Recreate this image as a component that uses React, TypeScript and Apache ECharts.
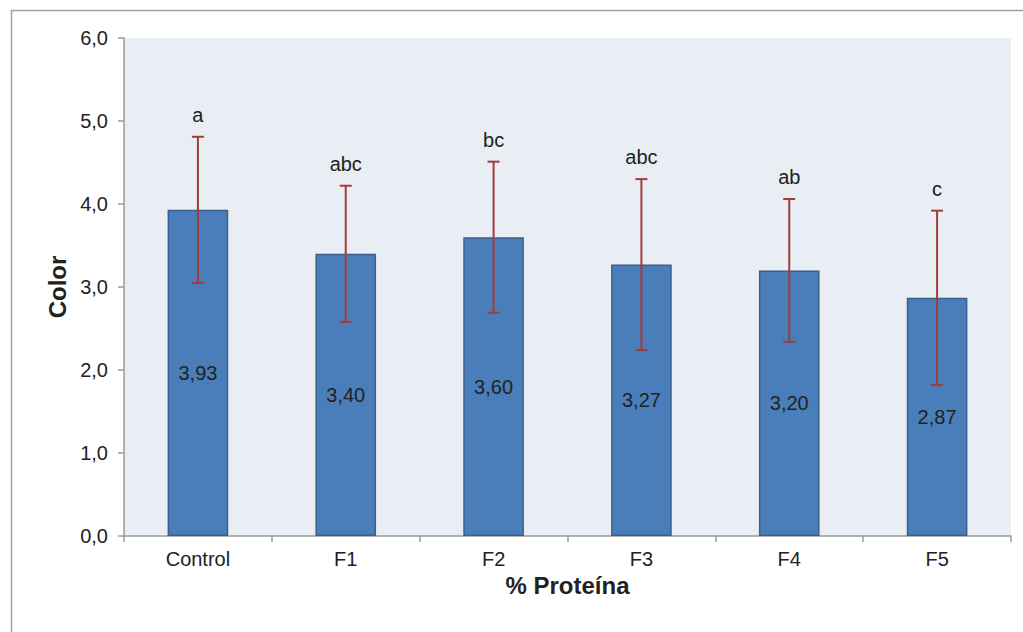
import React, { useEffect, useRef } from "react";
import * as echarts from "echarts";

const categories = ["Control", "F1", "F2", "F3", "F4", "F5"];
const means = [3.93, 3.4, 3.6, 3.27, 3.2, 2.87];
const sds = [0.88, 0.82, 0.91, 1.03, 0.86, 1.05];
const letters = ["a", "abc", "bc", "abc", "ab", "c"];

const fmt = (v: number, d: number) => v.toFixed(d).replace(".", ",");
const FONT = "'Liberation Sans', Arial, sans-serif";

export default function App() {
  const ref = useRef<HTMLDivElement>(null);
  useEffect(() => {
    if (!ref.current) return;
    const chart = echarts.init(ref.current, null, { renderer: "svg" });
    const errData = categories.map((_, i) => [i, means[i] - sds[i], means[i] + sds[i], i]);
    chart.setOption({
      animation: false,
      textStyle: { fontFamily: FONT },
      graphic: [
        { type: "line", shape: { x1: 11, y1: 10.5, x2: 1023, y2: 10.5 }, style: { stroke: "#a0a0a0", lineWidth: 1.5 } },
        { type: "line", shape: { x1: 11.5, y1: 10, x2: 11.5, y2: 632 }, style: { stroke: "#a0a0a0", lineWidth: 1.5 } },
      ],
      grid: { left: 124, top: 38, right: 12, bottom: 96, show: true, backgroundColor: "#e9edf4", borderWidth: 0 },
      xAxis: {
        type: "category",
        data: categories,
        name: "% Proteína",
        nameLocation: "middle",
        nameGap: 36,
        nameTextStyle: { fontSize: 24, fontWeight: "bold", color: "#222", fontFamily: FONT },
        axisLine: { lineStyle: { color: "#9a9a9a", width: 1.5 } },
        axisTick: { show: true, length: 6, lineStyle: { color: "#9a9a9a", width: 1.5 } },
        axisLabel: { fontSize: 20, color: "#222", margin: 13, fontFamily: FONT },
      },
      yAxis: {
        type: "value",
        min: 0,
        max: 6,
        interval: 1,
        name: "Color",
        nameLocation: "middle",
        nameGap: 54,
        nameTextStyle: { fontSize: 24, fontWeight: "bold", color: "#222", fontFamily: FONT },
        axisLine: { show: true, lineStyle: { color: "#9a9a9a", width: 1.5 } },
        axisTick: { show: true, length: 6, lineStyle: { color: "#9a9a9a", width: 1.5 } },
        axisLabel: { fontSize: 20, color: "#222", margin: 16, fontFamily: FONT, formatter: (v: number) => fmt(v, 1) },
        splitLine: { show: false },
      },
      series: [
        {
          type: "bar",
          data: means,
          barWidth: "41%",
          itemStyle: { color: "#4a7ebb", borderColor: "#3a5f8c", borderWidth: 1.5 },
          label: {
            show: true,
            position: "inside",
            fontSize: 20,
            color: "#222",
            fontFamily: FONT,
            formatter: (p: any) => fmt(p.value, 2),
          },
          z: 2,
        },
        {
          type: "custom",
          data: errData,
          z: 5,
          renderItem: (params: any, api: any) => {
            const i = api.value(0);
            const lo = api.coord([i, api.value(1)]);
            const hi = api.coord([i, api.value(2)]);
            const cap = 6;
            const style = { stroke: "#a23b3b", lineWidth: 2 };
            return {
              type: "group",
              children: [
                { type: "line", shape: { x1: hi[0], y1: hi[1], x2: lo[0], y2: lo[1] }, style },
                { type: "line", shape: { x1: hi[0] - cap, y1: hi[1], x2: hi[0] + cap, y2: hi[1] }, style },
                { type: "line", shape: { x1: lo[0] - cap, y1: lo[1], x2: lo[0] + cap, y2: lo[1] }, style },
                {
                  type: "text",
                  x: hi[0],
                  y: hi[1] - 22,
                  style: {
                    text: letters[api.value(3)],
                    fontSize: 20,
                    fill: "#222",
                    align: "center",
                    verticalAlign: "middle",
                    fontFamily: FONT,
                  },
                },
              ],
            };
          },
        },
      ],
    });
    return () => chart.dispose();
  }, []);
  return <div ref={ref} style={{ position: "fixed", left: 0, top: 0, width: 1023, height: 632, background: "#fff" }} />;
}
